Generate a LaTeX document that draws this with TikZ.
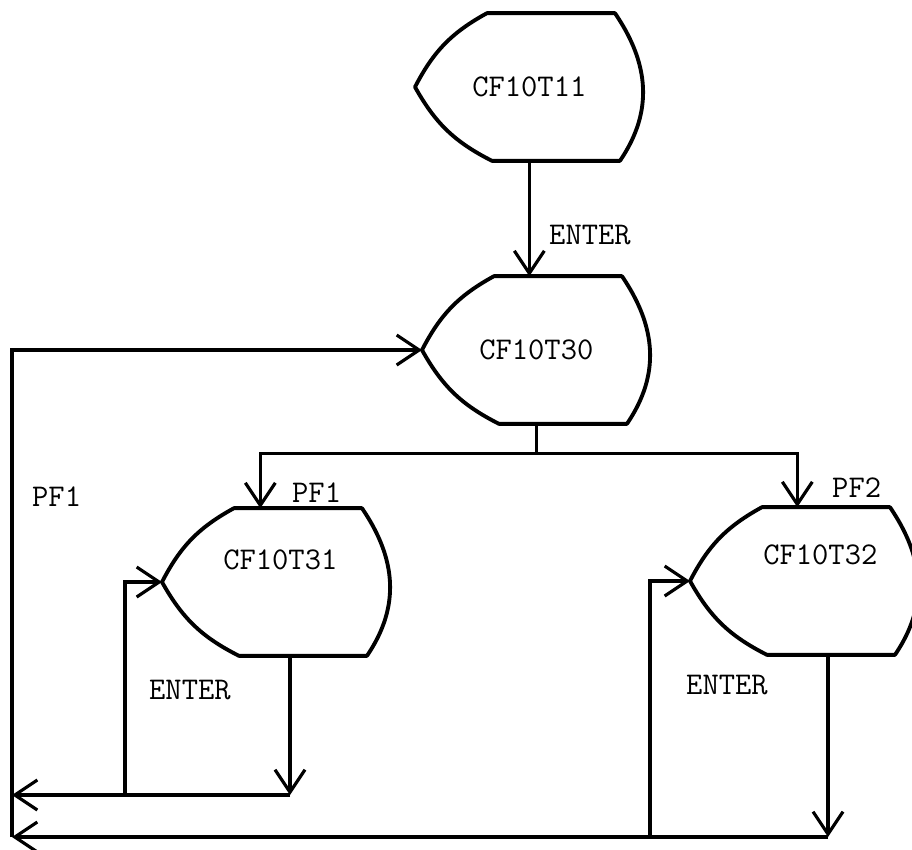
\documentclass[tikz,border=0pt]{standalone}
\usepackage{tikz}
\usetikzlibrary{arrows.meta,positioning}

\tikzset{
  display/.style = {draw = none, rectangle, inner sep = 0pt, anchor = west,
    minimum width = 4.56cm, minimum height = 2.94cm},
  outline/.style = {line width = 2.2pt, line join = round},
  arr/.style = {line width = 1.8pt, -{Straight Barb[length = 0.45cm, width = 0.6cm, line width = 1.8pt]}},
  link/.style = {line width = 1.8pt}
}

% outline of a display box, drawn round the node #1
\newcommand{\screenbox}[1]{%
  \draw [outline] (#1.west) to [bend left = 17] ([xshift = 1.44cm]#1.north west)
    -- ([xshift = 4cm]#1.north west)
    .. controls +(0.68cm, -1cm) and +(0.68cm, 1cm) .. ([xshift = 4.1cm]#1.south west)
    -- ([xshift = 1.54cm]#1.south west) to [bend left = 17] (#1.west) -- cycle;}

\begin{document}
\begin{tikzpicture}[x = 0.02cm, y = -0.02cm, font = \fontsize{18}{21}\selectfont\ttfamily]
      \useasboundingbox (0, 0) rectangle (912, 849);
      \node [display] (s11) at (415, 87) {};
      \node [display] (s30) at (422, 350) {};
      \node [display] (s31) at (162, 582) {};
      \node [display] (s32) at (690, 581) {};
      \screenbox{s11}
      \screenbox{s30}
      \screenbox{s31}
      \screenbox{s32}
      \node at (s11.center) {CF10T11};
      \node at (s30.center) {CF10T30};
      \node at ([shift = {(0.08cm, 0.44cm)}]s31.center) {CF10T31};
      \node at ([shift = {(0.32cm, 0.52cm)}]s32.center) {CF10T32};
      \coordinate (split) at ([yshift = -0.6cm]s30.south);
      \coordinate (b31) at (290, 795);
      \coordinate (e31) at (125, 795);
      \coordinate (l1) at (12, 795);
      \coordinate (b32) at (828, 837);
      \coordinate (e32) at (650, 837);
      \coordinate (l2) at (12, 837);
      \draw [arr] (s11.south) -- (s11.south |- s30.north);
      \draw [link] (s30.south) -- (split);
      \draw [arr] (split) -| ([xshift = -0.32cm]s31.north);
      \draw [arr] (split) -| ([xshift = -0.14cm]s32.north);
      \draw [arr] (s31.south -| b31) -- (b31);
      \draw [arr] (b31) -- (l1);
      \draw [arr] (e31) |- (s31.west);
      \draw [arr] (s32.south -| b32) -- (b32);
      \draw [arr] (b32) -- (l2);
      \draw [arr] (e32) |- (s32.west);
      \draw [arr] (l2) |- (s30.west);
      \node [right] at (543, 235) {ENTER};
      \node [right] at (286, 493) {PF1};
      \node [right] at (826, 488) {PF2};
      \node [right] at (26, 497) {PF1};
      \node [right] at (143, 690) {ENTER};
      \node [right] at (680, 685) {ENTER};
    \end{tikzpicture}
\end{document}
